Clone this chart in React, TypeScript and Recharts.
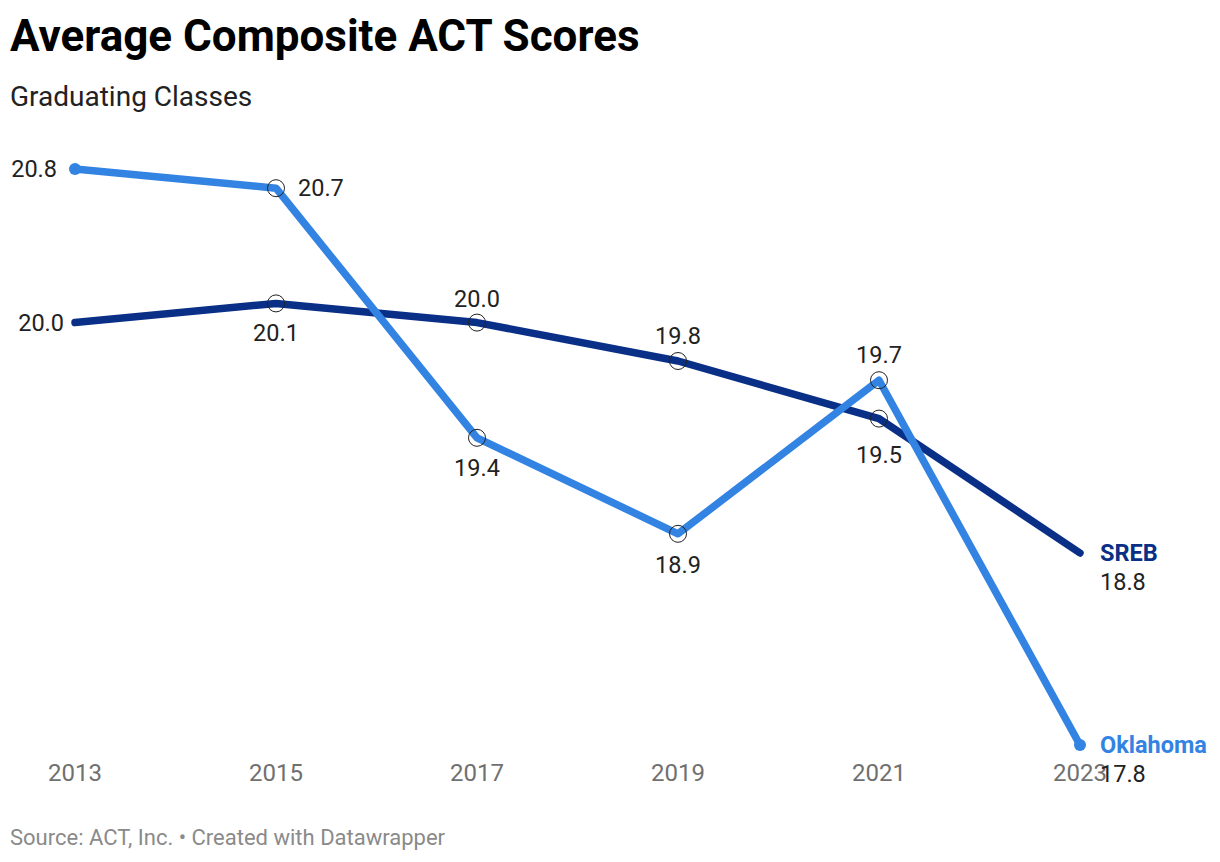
import { LineChart, Line, XAxis, YAxis, LabelList } from "recharts";

const years = [2013, 2015, 2017, 2019, 2021, 2023];
const oklahoma = [20.8, 20.7, 19.4, 18.9, 19.7, 17.8];
const sreb = [20.0, 20.1, 20.0, 19.8, 19.5, 18.8];

const data = years.map((year, i) => ({
  year,
  oklahoma: oklahoma[i],
  sreb: sreb[i],
}));

const OK_BLUE = "#3383e3";
const SREB_NAVY = "#0a2f87";
const LABEL_FONT = "Roboto, sans-serif";

// where each value label sits relative to its point: [dx, dy, anchor]
const okLabelPos: [number, number, "start" | "middle" | "end"][] = [
  [-18, 0, "end"],
  [22, 0, "start"],
  [0, 30, "middle"],
  [0, 31, "middle"],
  [0, -25, "middle"],
  [20, 29, "start"],
];
const srebLabelPos: [number, number, "start" | "middle" | "end"][] = [
  [-11, 0, "end"],
  [0, 30, "middle"],
  [0, -24, "middle"],
  [0, -25, "middle"],
  [0, 36, "middle"],
  [20, 29, "start"],
];

function makeDot(filledEnds: boolean) {
  return (props: any) => {
    const { cx, cy, index, fill } = props;
    const last = index === years.length - 1;
    if (index === 0 || last) {
      if (!filledEnds) return <g key={`d${index}`} />;
      return <circle key={`d${index}`} cx={cx} cy={cy} r={6} fill={fill} />;
    }
    return (
      <circle
        key={`d${index}`}
        cx={cx}
        cy={cy}
        r={8.5}
        fill="none"
        stroke="#222"
        strokeWidth={1}
      />
    );
  };
}

function makeLabel(
  pos: [number, number, "start" | "middle" | "end"][],
  name: string,
  color: string
) {
  return (props: any) => {
    const { x, y, value, index } = props;
    const [dx, dy, anchor] = pos[index];
    const last = index === years.length - 1;
    return (
      <g key={`l${index}`}>
        {last ? (
          <text
            x={x + dx}
            y={y}
            textAnchor="start"
            dominantBaseline="central"
            fill={color}
            fontFamily={LABEL_FONT}
            fontWeight={700}
            fontSize={23.5}
          >
            {name}
          </text>
        ) : null}
        <text
          x={x + dx}
          y={y + dy}
          textAnchor={anchor}
          dominantBaseline="central"
          fill="#222"
          fontFamily={LABEL_FONT}
          fontSize={23.5}
        >
          {Number(value).toFixed(1)}
        </text>
      </g>
    );
  };
}

export default function App() {
  return (
    <div
      style={{
        position: "absolute",
        left: 0,
        top: 0,
        width: 1220,
        height: 862,
        background: "#fff",
        fontFamily: LABEL_FONT,
      }}
    >
      <div
        style={{
          position: "absolute",
          left: 10,
          top: 10,
          fontSize: 44,
          fontWeight: 700,
          color: "#000",
          lineHeight: "52px",
        }}
      >
        Average Composite ACT Scores
      </div>
      <div
        style={{
          position: "absolute",
          left: 10,
          top: 80,
          fontSize: 28,
          color: "#222",
          lineHeight: "34px",
        }}
      >
        Graduating Classes
      </div>
      <div style={{ position: "absolute", left: 0, top: 0 }}>
        <LineChart
          width={1220}
          height={862}
          data={data}
          margin={{ top: 169, right: 140, bottom: 77, left: 75 }}
        >
          <XAxis
            dataKey="year"
            type="number"
            domain={[2013, 2023]}
            ticks={years}
            axisLine={false}
            tickLine={false}
            tickSize={0}
            tickMargin={19}
            height={40}
            tick={{ fill: "#707070", fontSize: 24, fontFamily: LABEL_FONT }}
            padding={{ left: 0, right: 0 }}
          />
          <YAxis hide type="number" domain={[17.8, 20.8]} />
          <Line
            dataKey="sreb"
            stroke={SREB_NAVY}
            fill={SREB_NAVY}
            strokeWidth={7.5}
            strokeLinecap="round"
            strokeLinejoin="round"
            dot={makeDot(false)}
            activeDot={false}
            isAnimationActive={false}
          >
            <LabelList
              dataKey="sreb"
              content={makeLabel(srebLabelPos, "SREB", SREB_NAVY)}
            />
          </Line>
          <Line
            dataKey="oklahoma"
            stroke={OK_BLUE}
            fill={OK_BLUE}
            strokeWidth={7.5}
            strokeLinecap="round"
            strokeLinejoin="round"
            dot={makeDot(true)}
            activeDot={false}
            isAnimationActive={false}
          >
            <LabelList
              dataKey="oklahoma"
              content={makeLabel(okLabelPos, "Oklahoma", OK_BLUE)}
            />
          </Line>
        </LineChart>
      </div>
      <div
        style={{
          position: "absolute",
          left: 10,
          top: 825,
          fontSize: 22,
          color: "#8a8a8a",
          lineHeight: "26px",
        }}
      >
        Source: ACT, Inc. • Created with Datawrapper
      </div>
    </div>
  );
}
